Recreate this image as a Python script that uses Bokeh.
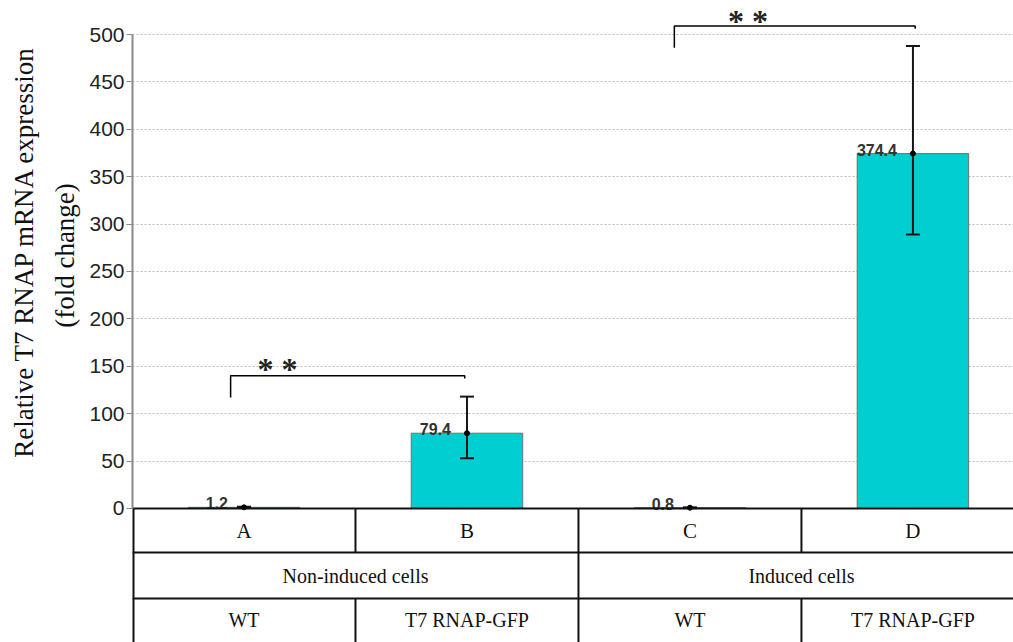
import math
from bokeh.plotting import figure
from bokeh.layouts import row
from bokeh.models import Range1d, FixedTicker, ColumnDataSource
from bokeh.core.properties import value
from bokeh.embed import file_html
from bokeh.resources import INLINE

# ---------------- data ----------------
categories = ["A", "B", "C", "D"]
means = [1.2, 79.4, 0.8, 374.4]
err_low = [0.6, 53.0, 0.4, 289.0]
err_high = [1.8, 118.0, 1.2, 488.0]
value_labels = ["1.2", "79.4", "0.8", "374.4"]
induction = ["Non-induced cells", "Induced cells"]
strains = ["WT", "T7 RNAP-GFP", "WT", "T7 RNAP-GFP"]
y_ticks = [0, 50, 100, 150, 200, 250, 300, 350, 400, 450, 500]
sig_marks = ["* *", "* *"]
y_title = ["Relative T7 RNAP mRNA expression", "(fold change)"]

# ---------------- annotation geometry (data units) ----------------
bracket_left = [0.44, 2.43]
bracket_right = [1.49, 3.51]
bracket_top = [140.0, 509.0]
bracket_leg = [117.0, 486.0]
star_x = [0.65, 2.76]
star_y = [147.0, 514.0]
row_edges = [0.0, -46.5, -95.0, -142.0]

TITLE_W = 85
W, H = 1013, 642
xs = [i + 0.5 for i in range(len(categories))]
XMAX = 3.951

# ---------------- y-title panel ----------------
t = figure(width=TITLE_W, height=H, x_range=Range1d(0, TITLE_W), y_range=Range1d(0, H),
           output_backend="svg", toolbar_location=None,
           x_axis_location=None, y_axis_location=None,
           min_border_left=0, min_border_right=0, min_border_top=0, min_border_bottom=0)
t.outline_line_color = None
t.xgrid.visible = False
t.ygrid.visible = False
t.text(x=[23, 64], y=[H - 251, H - 255], text=y_title, angle=math.pi / 2,
       text_align="center", text_baseline="middle",
       text_font=value("Liberation Serif"), text_font_size="27px", text_color="#111111")

# ---------------- main chart ----------------
p = figure(width=W - TITLE_W, height=H,
           x_range=Range1d(0, XMAX), y_range=Range1d(-141.4, 535.9),
           output_backend="svg", toolbar_location=None,
           x_axis_location=None,
           min_border_left=132 - TITLE_W, min_border_right=0,
           min_border_top=0, min_border_bottom=0)
p.outline_line_color = None
p.background_fill_color = "white"
p.border_fill_color = "white"

# grid
p.xgrid.visible = False
p.ygrid.ticker = FixedTicker(ticks=y_ticks[1:])
p.ygrid.grid_line_color = "#bcbcbc"
p.ygrid.grid_line_dash = "2 2"
p.ygrid.grid_line_width = 1

# y axis
ax = p.yaxis[0]
ax.ticker = FixedTicker(ticks=y_ticks)
ax.bounds = (0, 500)
ax.axis_line_color = "#8a8a8a"
ax.axis_line_width = 2
ax.major_tick_line_color = "#8a8a8a"
ax.major_tick_line_width = 1
ax.major_tick_out = 6
ax.major_tick_in = 0
ax.minor_tick_line_color = None
ax.major_label_text_font = "Liberation Sans"
ax.major_label_text_font_size = "21px"
ax.major_label_text_color = "#222222"
ax.major_label_standoff = 2

# bars
src = ColumnDataSource(dict(x=xs, top=means, lo=err_low, hi=err_high, lab=value_labels))
p.vbar(x="x", top="top", bottom=0, width=0.5, source=src,
       fill_color="#00CED1", line_color="#707070", line_width=1)

# error bars
p.segment(x0="x", y0="lo", x1="x", y1="hi", source=src, line_color="#151515", line_width=2)
p.scatter(x="x", y="lo", marker="dash", size=14, line_width=2, line_color="#151515", source=src)
p.scatter(x="x", y="hi", marker="dash", size=14, line_width=2, line_color="#151515", source=src)
p.scatter(x="x", y="top", size=5, color="#000000", source=src)

# value labels
p.text(x="x", y="top", text="lab", source=src, text_align="right", text_baseline="alphabetic",
       x_offset=-16, y_offset=-4, text_font=value("Liberation Sans"), text_font_size="16px",
       text_font_style="bold", text_color="#333333")

# significance brackets
for l, r, tp, g in zip(bracket_left, bracket_right, bracket_top, bracket_leg):
    p.line(x=[l, l, r, r], y=[g, tp, tp, tp - 3], line_color="#000000", line_width=1.5)
p.text(x=star_x, y=star_y, text=sig_marks, text_align="center", text_baseline="middle",
       text_font=value("Liberation Serif"), text_font_size="32px", text_font_style="bold",
       text_color="#222222")

# table lines
for ye in row_edges[:3]:
    p.segment(x0=[0], y0=[ye], x1=[XMAX], y1=[ye], line_color="#111111", line_width=2)
p.segment(x0=[0], y0=[0], x1=[0], y1=[row_edges[3]], line_color="#111111", line_width=4)
for i in range(1, len(categories)):
    p.segment(x0=[i], y0=[row_edges[0]], x1=[i], y1=[row_edges[1]], line_color="#111111", line_width=2)
    p.segment(x0=[i], y0=[row_edges[2]], x1=[i], y1=[row_edges[3]], line_color="#111111", line_width=2)
p.segment(x0=[2], y0=[row_edges[1]], x1=[2], y1=[row_edges[2]], line_color="#111111", line_width=2)

# table text
row1_y = [(row_edges[0] + row_edges[1]) / 2] * len(categories)
row2_y = [(row_edges[1] + row_edges[2]) / 2] * len(induction)
row3_y = [-118.0] * len(strains)
p.text(x=xs, y=row1_y, text=categories, text_align="center", text_baseline="middle",
       text_font=value("Liberation Serif"), text_font_size="21px", text_color="#111111")
p.text(x=[1.0, 3.0], y=row2_y, text=induction, text_align="center", text_baseline="middle",
       text_font=value("Liberation Serif"), text_font_size="20px", text_color="#111111")
p.text(x=xs, y=row3_y, text=strains, text_align="center", text_baseline="middle",
       text_font=value("Liberation Serif"), text_font_size="20px", text_color="#111111")

layout = row(t, p, spacing=0)
open("out.html", "w").write(file_html(layout, INLINE))
